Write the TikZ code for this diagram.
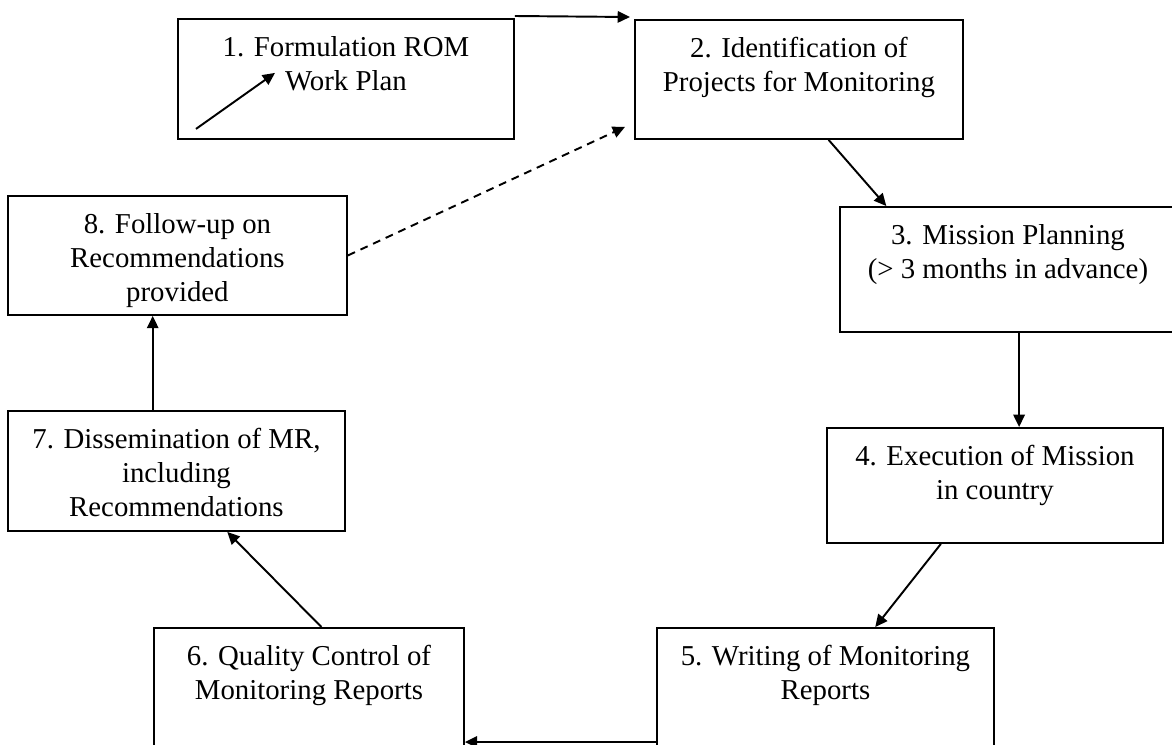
\documentclass[tikz,border=0pt]{standalone}
\usepackage{fontspec}
\setmainfont{Liberation Serif}
\usepackage{tikz}
\usetikzlibrary{calc,arrows.meta}
\newcommand*{\stagefont}{\fontsize{16.4}{19.3}\selectfont}

\begin{document}
\begin{tikzpicture}[x=.02cm,y=-.02cm]
\tikzset{
  stage/.style={draw,line width=1.1pt,anchor=north west,inner sep=0pt},
  inbox/.style={anchor=north,align=center,font=\stagefont,inner sep=0pt,yshift=-.36cm},
  flow/.style={line width=1.1pt,-{Triangle[length=7pt,width=6.5pt]}}
}
\useasboundingbox (0,0) rectangle (1172,744);
% Stages, clockwise from the top left
\node[stage,minimum width=6.72cm,minimum height=2.4cm,
  label={[inbox]north:{1. Formulation ROM\\Work Plan}}] (b1) at (177,18) {};
\node[stage,minimum width=6.56cm,minimum height=2.38cm,
  label={[inbox]north:{2. Identification of\\Projects for Monitoring}}] (b2) at (634,19) {};
\node[stage,minimum width=6.72cm,minimum height=2.5cm,
  label={[inbox]north:{3. Mission Planning\\(> 3 months in advance)}}] (b3) at (839,206) {};
\node[stage,minimum width=6.72cm,minimum height=2.3cm,
  label={[inbox]north:{4. Execution of Mission\\in country}}] (b4) at (826,427) {};
\node[stage,minimum width=6.74cm,minimum height=2.5cm,
  label={[inbox]north:{5. Writing of Monitoring\\Reports}}] (b5) at (656,627) {};
\node[stage,minimum width=6.2cm,minimum height=2.5cm,
  label={[inbox]north:{6. Quality Control of\\Monitoring Reports}}] (b6) at (153,627) {};
\node[stage,minimum width=6.74cm,minimum height=2.4cm,
  label={[inbox]north:{7. Dissemination of MR,\\including\\Recommendations}}] (b7) at (7,410) {};
\node[stage,minimum width=6.78cm,minimum height=2.38cm,
  label={[inbox]north:{8. Follow-up on\\Recommendations\\provided}}] (b8) at (7,195) {};
% Top link from 1 to 2, and the small arrow inside 1
\draw[flow] ([yshift=.04cm]b1.north east) -- ([xshift=-.08cm,yshift=.04cm]b2.north west);
\draw[flow] ($(b1.south west)+(19,-11)$) -- ($(b1.south west)+(98,-67)$);
% Dashed link back from 8 to 2
\draw[flow,dash pattern=on 4.5pt off 3.4pt] (b8.east) -- ($(b2.south west)+(-9,-13)$);
% The cycle
\draw[flow] ($(b2.south west)!.59!(b2.south east)$) -- ($(b3.north west)!.14!(b3.north east)$);
\draw[flow] ($(b3.south west)!.533!(b3.south east)$) coordinate (m3) -- (m3 |- b4.north);
\draw[flow] ($(b4.south west)!.34!(b4.south east)$) -- ($(b5.north west)!.647!(b5.north east)$);
\coordinate (low) at (0,742);
\draw[flow] (b5.west |- low) -- (b6.east |- low);
\draw[flow] ($(b6.north west)!.54!(b6.north east)$) -- ($(b7.south west)!.65!(b7.south east)$);
\draw[flow] ($(b7.north west)!.43!(b7.north east)$) coordinate (m7) -- (m7 |- b8.south);
\end{tikzpicture}
\end{document}
